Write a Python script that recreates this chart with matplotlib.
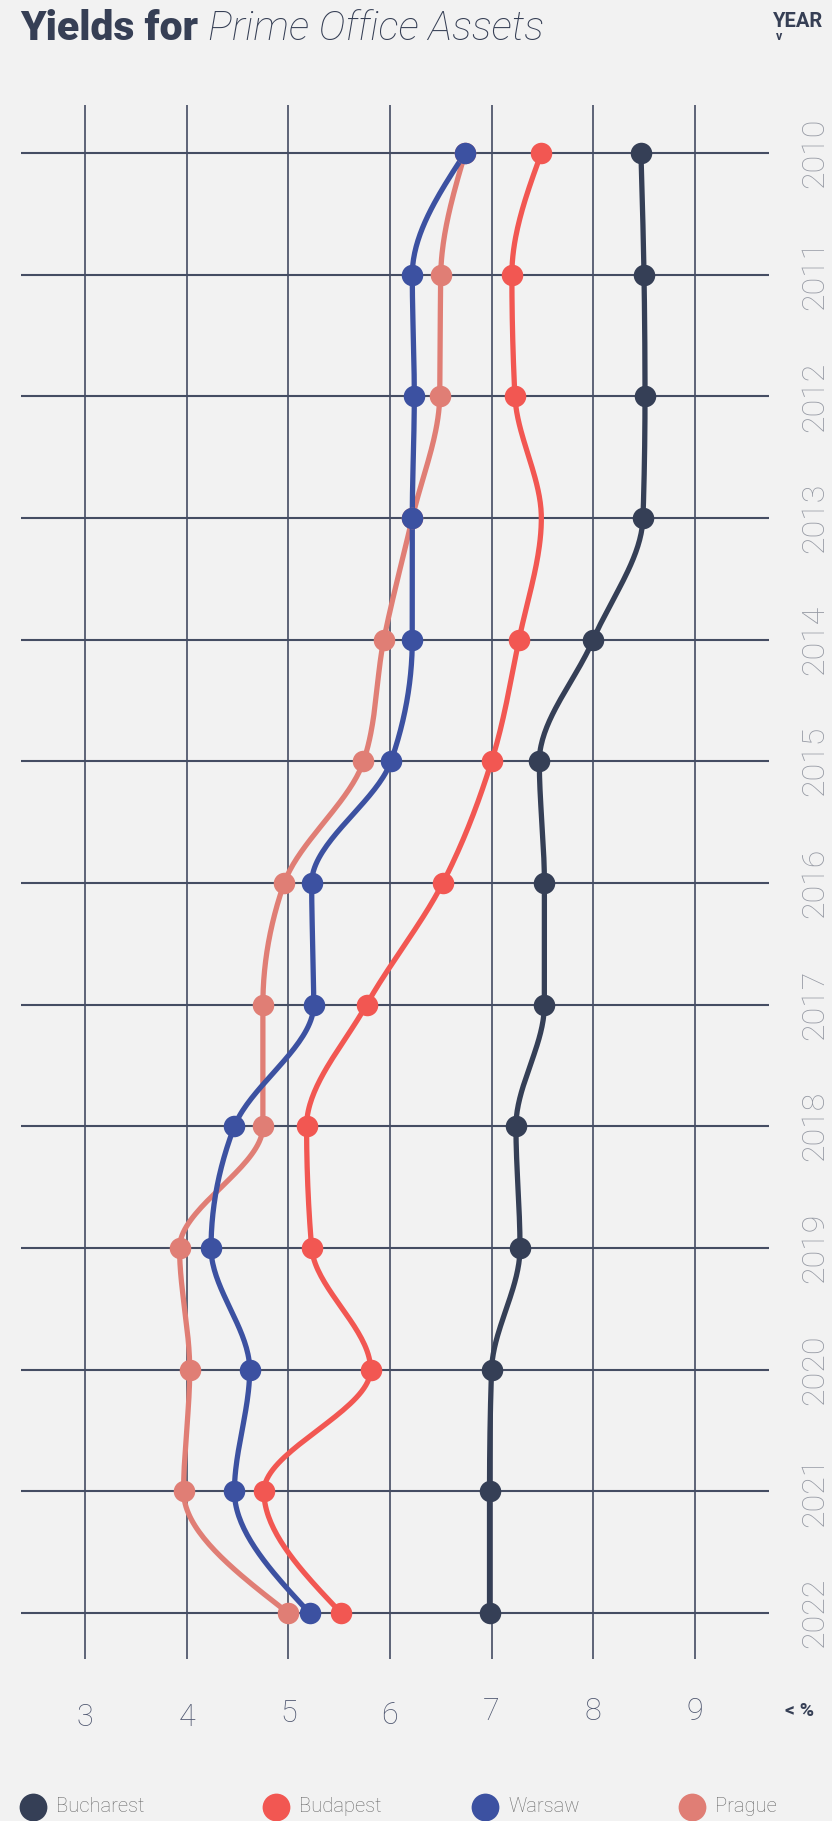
import numpy as np
import matplotlib.pyplot as plt
from matplotlib.lines import Line2D

plt.rcParams["font.family"] = ["Roboto", "DejaVu Sans"]

years = np.arange(2010, 2023)
bucharest = [8.47, 8.50, 8.51, 8.49, 8.00, 7.47, 7.52, 7.52, 7.24, 7.28, 7.00, 6.98, 6.98]
budapest = [7.49, 7.20, 7.23, 7.49, 7.27, 7.00, 6.52, 5.77, 5.18, 5.23, 5.81, 4.76, 5.52]
warsaw = [6.74, 6.22, 6.24, 6.22, 6.22, 6.01, 5.23, 5.25, 4.47, 4.24, 4.62, 4.47, 5.21]
prague = [6.74, 6.50, 6.49, 6.22, 5.94, 5.74, 4.96, 4.75, 4.75, 3.93, 4.03, 3.97, 5.00]
x_ticks = [3, 4, 5, 6, 7, 8, 9]

series = [
    ("Bucharest", bucharest, "#353f56"),
    ("Budapest", budapest, "#f25752"),
    ("Prague", prague, "#e07e75"),
    ("Warsaw", warsaw, "#3c51a1"),
]
legend_order = ["Bucharest", "Budapest", "Warsaw", "Prague"]
# budapest 2013 has no dot on the chart
no_marker = {"Budapest": [3]}

BG = "#f2f2f2"
NAVY = "#363f55"


def monotone_curve(xs, ys, steps=40):
    # cubic hermite with d3-style monotone tangents
    xs = np.asarray(xs, float)
    ys = np.asarray(ys, float)
    h = np.diff(xs)
    s = np.diff(ys) / h
    t = np.zeros(len(xs))
    for i in range(1, len(xs) - 1):
        p = (s[i - 1] * h[i] + s[i] * h[i - 1]) / (h[i - 1] + h[i])
        t[i] = (np.sign(s[i - 1]) + np.sign(s[i])) * min(abs(s[i - 1]), abs(s[i]), 0.5 * abs(p))
    t[0] = (3 * s[0] - t[1]) / 2
    t[-1] = (3 * s[-1] - t[-2]) / 2
    out_x, out_y = [], []
    u = np.linspace(0, 1, steps)
    for i in range(len(xs) - 1):
        h00 = 2 * u**3 - 3 * u**2 + 1
        h10 = u**3 - 2 * u**2 + u
        h01 = -2 * u**3 + 3 * u**2
        h11 = u**3 - u**2
        out_x.append(xs[i] + u * h[i])
        out_y.append(h00 * ys[i] + h10 * h[i] * t[i] + h01 * ys[i + 1] + h11 * h[i] * t[i + 1])
    return np.concatenate(out_x), np.concatenate(out_y)


fig = plt.figure(figsize=(8.32, 18.21), dpi=100)
fig.patch.set_facecolor(BG)

W, H = 832, 1821
ax = fig.add_axes([21 / W, 1 - 1659 / H, 748 / W, 1554 / H])
ax.set_facecolor(BG)
ax.set_xlim(2.37, 9.73)
ax.set_ylim(2022.378, 2009.605)
for sp in ax.spines.values():
    sp.set_visible(False)
ax.set_xticks([])
ax.set_yticks([])

for xv in x_ticks:
    ax.axvline(xv, color="#5d6477", lw=1.4, zorder=1)
for yr in years:
    ax.axhline(yr, color="#454d63", lw=1.5, zorder=1)

for i, (name, vals, col) in enumerate(series):
    cy, cx = monotone_curve(years, vals)
    ax.plot(cx, cy, color=col, lw=3.8, solid_capstyle="round", zorder=2 + i, clip_on=False)
    keep = [k for k in range(len(years)) if k not in no_marker.get(name, [])]
    ax.plot(np.asarray(vals)[keep], years[keep], "o", ms=15.5, color=col,
            markeredgewidth=0, zorder=6 + i, clip_on=False)

# year labels on the right
for yr in years:
    ax.text(1.0605, yr, str(yr), transform=ax.get_yaxis_transform(), rotation=90,
            ha="center", va="center", fontsize=23, fontweight="light", color="#9599a3")

# value labels under the grid
tick_label_y = [1717, 1717, 1713, 1716, 1711, 1712, 1712]
for xv, py in zip(x_ticks, tick_label_y):
    ax.text(xv, (1659 - py) / 1554, str(xv), transform=ax.get_xaxis_transform(),
            ha="center", va="center", fontsize=22, fontweight="light", color="#4f5770")

fig.text(785 / W, 1 - 1711 / H, "< %", ha="left", va="center", fontsize=14,
         fontweight="bold", color=NAVY)

# title, bold part then light italic part
t1 = fig.text(20 / W, 1 - 40 / H, "Yields for ", ha="left", va="baseline", fontsize=29.5,
              fontweight="heavy", color=NAVY)
fig.canvas.draw()
bb = t1.get_window_extent(renderer=fig.canvas.get_renderer())
fig.text(bb.x1 / W, 1 - 40 / H, "Prime Office Assets", ha="left", va="baseline", fontsize=29.5,
         fontweight="light", fontstyle="italic", color=NAVY)

fig.text(773 / W, 1 - 27 / H, "YEAR", ha="left", va="baseline", fontsize=14.5,
         fontweight="bold", color=NAVY)
fig.text(779 / W, 1 - 37 / H, "v", ha="center", va="center", fontsize=9,
         fontweight="bold", color=NAVY)

# legend strip along the bottom
lax = fig.add_axes([0, 0, 1, 40 / H])
lax.set_xlim(0, W)
lax.set_ylim(0, 40)
lax.axis("off")
legend_x = [33, 276, 485, 692]
colors = {name: col for name, _, col in series}
for name, lx in zip(legend_order, legend_x):
    lax.add_line(Line2D([lx], [14], marker="o", ms=20, color=colors[name],
                        markeredgewidth=0, clip_on=False))
    lax.text(lx + 23, 14, name, ha="left", va="center", fontsize=14.5,
             fontweight="light", color="#6b6b6b")

fig.savefig("out.png", dpi=100, facecolor=BG)
